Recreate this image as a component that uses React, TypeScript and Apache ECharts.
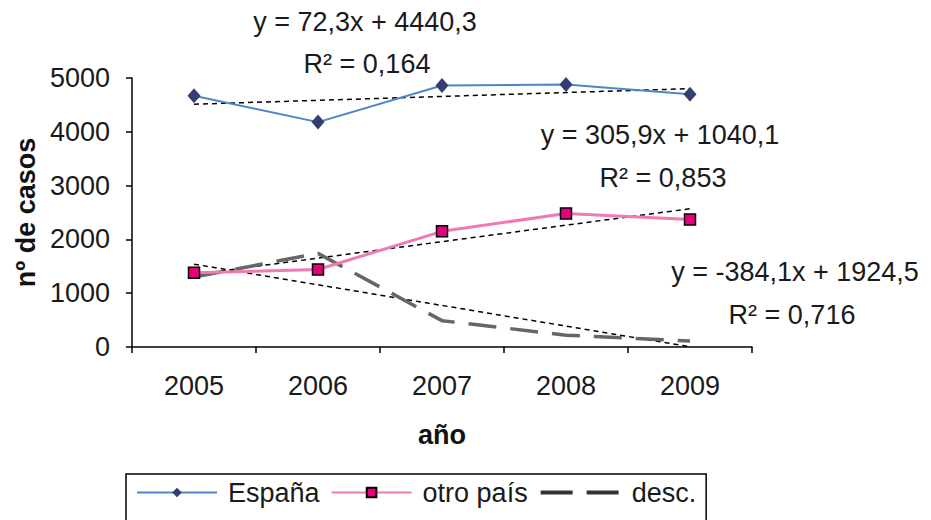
import React, { useEffect, useRef } from "react";
import * as echarts from "echarts";

const years = ["2005", "2006", "2007", "2008", "2009"];
const espana = [4670, 4180, 4860, 4880, 4700];
const otroPais = [1380, 1440, 2150, 2480, 2370];
const desc = [1300, 1740, 490, 220, 110];

// trend line values read at each year
const trendEspana = [4513, 4585, 4657, 4730, 4802];
const trendOtro = [1346, 1652, 1958, 2264, 2570];
const trendDesc = [1540, 1156, 772, 388, 4];

const equations = ["y = 72,3x + 4440,3", "y = 305,9x + 1040,1", "y = -384,1x + 1924,5"];
const rSquared = ["R² = 0,164", "R² = 0,853", "R² = 0,716"];
const seriesNames = ["España", "otro país", "desc."];

const FONT = "Liberation Sans, Arial, sans-serif";

export default function App() {
  const ref = useRef<HTMLDivElement>(null);
  useEffect(() => {
    if (!ref.current) return;
    const chart = echarts.init(ref.current, null, { renderer: "svg" });
    const eqPos = [
      [365, 22, 367, 64],
      [660, 135, 663, 178],
      [795, 272, 792, 315],
    ];
    const graphics: any[] = [];
    equations.forEach((eq, i) => {
      const p = eqPos[i];
      graphics.push({
        type: "text",
        x: p[0],
        y: p[1],
        style: {
          text: eq,
          font: `27px ${FONT}`,
          fill: "#1a1a1a",
          align: "center",
          verticalAlign: "middle",
          textAlign: "center",
          textVerticalAlign: "middle",
        },
      });
      graphics.push({
        type: "text",
        x: p[2],
        y: p[3],
        style: {
          text: rSquared[i],
          font: `27px ${FONT}`,
          fill: "#1a1a1a",
          align: "center",
          verticalAlign: "middle",
          textAlign: "center",
          textVerticalAlign: "middle",
        },
      });
    });

    const trendStyle = { color: "#000", width: 1.5, type: [5, 4] as any };
    const trendSeries = [trendEspana, trendOtro, trendDesc].map((d, i) => ({
      name: "trend" + i,
      type: "line",
      data: d,
      symbol: "none",
      silent: true,
      lineStyle: trendStyle,
      itemStyle: { color: "#000" },
      z: 1,
    }));

    chart.setOption({
      animation: false,
      backgroundColor: "#fff",
      textStyle: { fontFamily: FONT },
      grid: { left: 132, right: 179, top: 78, bottom: 173, containLabel: false },
      legend: {
        data: [
          { name: seriesNames[0] },
          { name: seriesNames[1] },
          {
            name: seriesNames[2],
            itemStyle: { opacity: 0 },
            lineStyle: { color: "#333", width: 4, type: [32, 14] as any },
          },
        ],
        left: 126,
        top: 474,
        orient: "horizontal",
        borderColor: "#000",
        borderWidth: 1.5,
        padding: [5, 10, 30, 10],
        itemWidth: 80,
        itemHeight: 12,
        itemGap: 11,
        textStyle: { fontSize: 27, color: "#1a1a1a", fontFamily: FONT, padding: [0, 0, 0, 6] },
      },
      xAxis: {
        type: "category",
        data: years,
        boundaryGap: true,
        name: "año",
        nameLocation: "middle",
        nameGap: 74,
        nameTextStyle: { fontSize: 27, fontWeight: "bold", color: "#111", fontFamily: FONT },
        axisLine: { show: true, lineStyle: { color: "#000", width: 1.5 } },
        axisTick: { show: true, inside: false, length: 6, alignWithLabel: false, lineStyle: { color: "#000", width: 1.5 } },
        axisLabel: { fontSize: 27, color: "#1a1a1a", margin: 25, fontFamily: FONT },
        splitLine: { show: false },
      },
      yAxis: {
        type: "value",
        min: 0,
        max: 5000,
        interval: 1000,
        name: "nº de casos",
        nameLocation: "middle",
        nameGap: 93,
        nameTextStyle: { fontSize: 27, fontWeight: "bold", color: "#111", fontFamily: FONT },
        axisLine: { show: true, lineStyle: { color: "#000", width: 1.5 } },
        axisTick: { show: true, inside: false, length: 6, lineStyle: { color: "#000", width: 1.5 } },
        axisLabel: {
          fontSize: 27,
          color: "#1a1a1a",
          margin: 22,
          fontFamily: FONT,
          formatter: (v: number) => String(v),
        },
        splitLine: { show: false },
      },
      graphic: graphics,
      series: [
        ...trendSeries,
        {
          name: "España",
          type: "line",
          data: espana,
          symbol: "diamond",
          symbolSize: [13, 15],
          lineStyle: { color: "#4f85c8", width: 2 },
          itemStyle: { color: "#363d72" },
          z: 3,
        },
        {
          name: "otro país",
          type: "line",
          data: otroPais,
          symbol: "rect",
          symbolSize: 11,
          lineStyle: { color: "#f07ab4", width: 3 },
          itemStyle: { color: "#e5007e", borderColor: "#000", borderWidth: 1.5 },
          z: 3,
        },
        {
          name: "desc.",
          type: "line",
          data: desc,
          symbol: "none",
          lineStyle: { color: "#666", width: 3.5, type: [28, 14] as any },
          itemStyle: { color: "#444" },
          z: 2,
        },
      ],
    });
    return () => chart.dispose();
  }, []);
  return (
    <div
      ref={ref}
      style={{ position: "fixed", left: 0, top: 0, width: 931, height: 520, background: "#fff" }}
    />
  );
}
